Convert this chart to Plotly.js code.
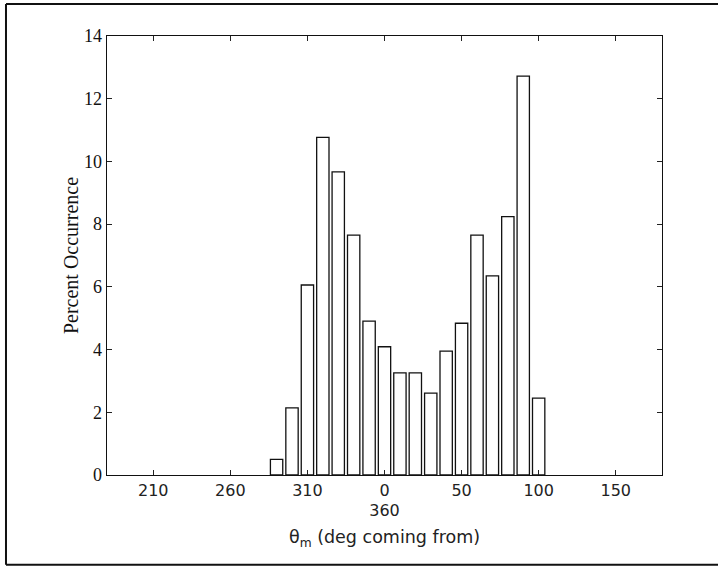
<!DOCTYPE html>
<html>
<head>
<meta charset="utf-8">
<script src="https://cdn.plot.ly/plotly-3.0.1.min.js"></script>
<style>
  html, body { margin: 0; padding: 0; background: #ffffff; }
  #chart { width: 718px; height: 566px; }
</style>
</head>
<body>
<div id="chart"></div>
<script>
// Direction bins (degrees, centred on 0 = 360), 10-degree classes
const binCenters = [-70, -60, -50, -40, -30, -20, -10, 0, 10, 20, 30, 40, 50, 60, 70, 80, 90, 100];
// Percent occurrence in each bin
const percentOccurrence = [0.5, 2.14, 6.06, 10.77, 9.67, 7.65, 4.91, 4.09, 3.26, 3.26, 2.61, 3.95, 4.84, 7.65, 6.35, 8.24, 12.72, 2.45];

// Axis ticks: compass bearings shown on a continuous -180..180 scale
const xTickVals = [-150, -100, -50, 0, 50, 100, 150];
const xTickText = ['210', '260', '310', '0<br>360', '50', '100', '150'];
const yTickVals = [0, 2, 4, 6, 8, 10, 12, 14];

const trace = {
  type: 'bar',
  x: binCenters,
  y: percentOccurrence,
  width: 8,
  marker: { color: '#ffffff', line: { color: '#111111', width: 1.3 } },
  hoverinfo: 'x+y'
};

const layout = {
  width: 718,
  height: 566,
  margin: { l: 107, r: 56, t: 36, b: 91 },
  paper_bgcolor: '#ffffff',
  plot_bgcolor: '#ffffff',
  showlegend: false,
  xaxis: {
    range: [-180, 180],
    tickvals: xTickVals,
    ticktext: xTickText,
    ticks: 'inside',
    ticklen: 5,
    tickcolor: '#222',
    showline: true,
    linecolor: '#111',
    linewidth: 1.3,
    mirror: 'ticks',
    showgrid: false,
    zeroline: false,
    tickfont: { family: 'DejaVu Sans, sans-serif', size: 16, color: '#222' },
    title: {
      text: 'θ<sub>m</sub> (deg coming from)',
      font: { family: 'DejaVu Sans, sans-serif', size: 17.5, color: '#222' },
      standoff: 11
    }
  },
  yaxis: {
    range: [0, 14],
    tickvals: yTickVals,
    ticks: 'inside',
    ticklen: 5,
    tickcolor: '#222',
    showline: true,
    linecolor: '#111',
    linewidth: 1.3,
    mirror: 'ticks',
    showgrid: false,
    zeroline: false,
    tickfont: { family: 'Liberation Serif, serif', size: 18, color: '#111' },
    title: {
      text: 'Percent Occurrence',
      font: { family: 'Liberation Serif, serif', size: 20, color: '#111' },
      standoff: 0
    }
  },
  shapes: [
    // outer frame around the whole figure
    { type: 'line', xref: 'paper', yref: 'paper', x0: -0.182, x1: 1.2, y0: 1.073, y1: 1.073,
      line: { color: '#111', width: 2 } },
    { type: 'line', xref: 'paper', yref: 'paper', x0: -0.182, x1: -0.182, y0: 1.073, y1: -0.2046,
      line: { color: '#111', width: 2 } },
    { type: 'line', xref: 'paper', yref: 'paper', x0: -0.182, x1: 1.2, y0: -0.2046, y1: -0.2046,
      line: { color: '#111', width: 2 } }
  ]
};

Plotly.newPlot('chart', [trace], layout, { displayModeBar: false, staticPlot: true });
</script>
</body>
</html>
